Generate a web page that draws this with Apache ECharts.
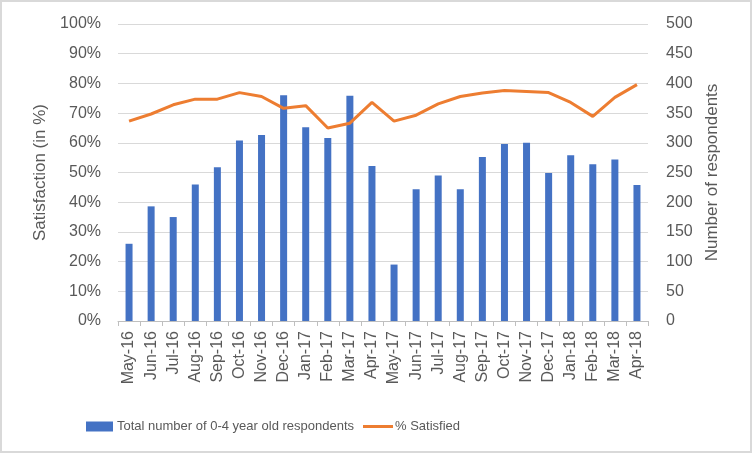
<!DOCTYPE html>
<html><head><meta charset="utf-8">
<script src="https://cdn.jsdelivr.net/npm/echarts@6/dist/echarts.min.js"></script>
<style>
html,body{margin:0;padding:0;background:#fff;}
#c{position:absolute;left:0;top:0;width:752px;height:453px;}
#b{position:absolute;left:0;top:0;width:752px;height:453px;box-sizing:border-box;border:2px solid #d9d9d9;pointer-events:none;}
</style></head>
<body><div id="c"></div><div id="b"></div>
<script>
const categories = ['May-16','Jun-16','Jul-16','Aug-16','Sep-16','Oct-16','Nov-16','Dec-16','Jan-17','Feb-17','Mar-17','Apr-17','May-17','Jun-17','Jul-17','Aug-17','Sep-17','Oct-17','Nov-17','Dec-17','Jan-18','Feb-18','Mar-18','Apr-18'];
const respondents = [130,193,175,230,259,304,313,380,326,308,379,261,95,222,245,222,276,298,300,249,279,264,272,229];
const satisfied = [67.3,69.7,72.8,74.7,74.7,76.9,75.6,71.6,72.5,65.0,66.6,73.6,67.3,69.3,73.1,75.6,76.8,77.6,77.3,76.9,73.6,68.9,75.3,79.6];
const barName = 'Total number of 0-4 year old respondents';
const lineName = '% Satisfied';

const font = "'Liberation Sans',sans-serif";
const txt = '#595959';
const chart = echarts.init(document.getElementById('c'), null, {renderer:'canvas'});
chart.setOption({
  animation:false,
  textStyle:{fontFamily:font},
  grid:{left:118,right:104,top:24,bottom:132,containLabel:false},
  legend:[
    {data:[{name:barName,icon:'rect'}],left:81,top:415,itemWidth:27,itemHeight:10,itemGap:4,
     textStyle:{fontFamily:font,fontSize:13,color:txt,padding:[0,0,0,-1]}},
    {data:[{name:lineName,icon:'rect'}],left:358,top:415,itemWidth:30,itemHeight:3,itemGap:2,
     textStyle:{fontFamily:font,fontSize:13,color:txt,padding:[0,0,0,-3]}}
  ],
  xAxis:{type:'category',data:categories,
    axisLine:{lineStyle:{color:'#bfbfbf'}},
    axisTick:{show:true,alignWithLabel:false,length:5,lineStyle:{color:'#bfbfbf'}},
    axisLabel:{rotate:90,interval:0,margin:10,fontFamily:font,fontSize:16,color:txt}},
  yAxis:[
    {type:'value',min:0,max:100,interval:10,position:'left',
     name:'Satisfaction (in %)',nameLocation:'middle',nameGap:67,
     nameTextStyle:{fontFamily:font,fontSize:17,color:txt},
     axisLabel:{formatter:'{value}%',fontFamily:font,fontSize:16,color:txt,margin:17},
     splitLine:{lineStyle:{color:'#d9d9d9'}},axisLine:{show:false},axisTick:{show:false}},
    {type:'value',min:0,max:500,interval:50,position:'right',
     name:'Number of respondents',nameLocation:'middle',nameGap:56,nameRotate:90,
     nameTextStyle:{fontFamily:font,fontSize:17,color:txt},
     axisLabel:{fontFamily:font,fontSize:16,color:txt,margin:18},
     splitLine:{show:false},axisLine:{show:false},axisTick:{show:false}}
  ],
  series:[
    {name:barName,type:'bar',yAxisIndex:1,data:respondents,barWidth:7,itemStyle:{color:'#4472C4'}},
    {name:lineName,type:'line',yAxisIndex:0,data:satisfied,symbol:'none',smooth:false,
     lineStyle:{color:'#ED7D31',width:3},itemStyle:{color:'#ED7D31'},z:5}
  ]
});
</script></body></html>
